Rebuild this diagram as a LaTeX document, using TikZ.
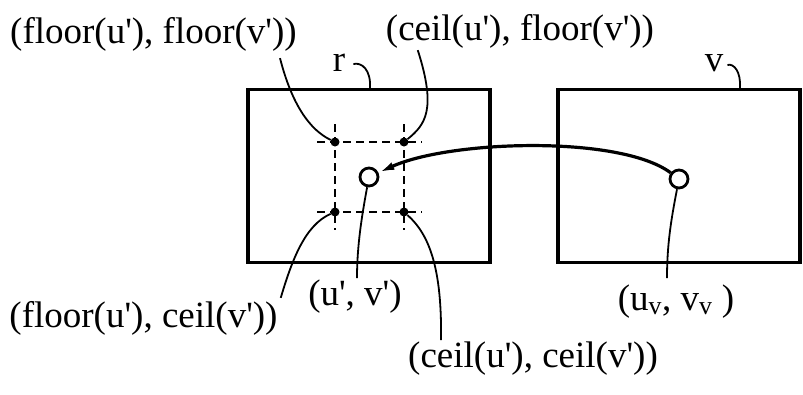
\documentclass[tikz,border=0pt]{standalone}
\usepackage{fontspec}
\setmainfont{Liberation Serif}
\usetikzlibrary{arrows.meta,calc}

\begin{document}
\begin{tikzpicture}[x=1pt, y=-1pt,
  frame/.style={draw, line width=3.2pt, minimum width=242pt, minimum height=173pt, inner sep=0pt},
  lbl/.style={inner sep=0pt, font=\fontsize{37}{40}\selectfont},
  dot/.style={circle, fill, inner sep=0pt, minimum size=9pt},
  ring/.style={circle, draw, line width=2.8pt, fill=white, inner sep=0pt, minimum size=18pt},
  gridline/.style={dash pattern=on 8pt off 5pt, line width=1.6pt},
  leader/.style={line width=1.8pt},
  link/.style={line width=3.2pt, -{Latex[length=16pt,width=8pt]}}]
  \useasboundingbox (0,0) rectangle (803,394);

  % the two frames
  \node[frame] (r) at (369,176) {};
  \node[frame] (v) at (679,176) {};

  % sample grid round (u', v')
  \node[dot] (ff) at (335,142) {};
  \node[dot] (cf) at (404,142) {};
  \node[dot] (fc) at (335,212) {};
  \node[dot] (cc) at (404,212) {};
  \draw[gridline] ($(ff)+(-18,0)$) -- ($(cf)+(18,0)$);
  \draw[gridline] ($(fc)+(-18,0)$) -- ($(cc)+(18,0)$);
  \draw[gridline] ($(ff)+(0,-18)$) -- ($(fc)+(0,18)$);
  \draw[gridline] ($(cf)+(0,-18)$) -- ($(cc)+(0,18)$);

  \node[ring] (p) at (369,177) {};
  \node[ring] (q) at (679,179) {};

  % labels
  \node[lbl] (lff) at (153.5,34) {(floor(u\textquotesingle), floor(v\textquotesingle))};
  \node[lbl] (lcf) at (520,31)   {(ceil(u\textquotesingle), floor(v\textquotesingle))};
  \node[lbl] (lfc) at (143.5,318) {(floor(u\textquotesingle), ceil(v\textquotesingle))};
  \node[lbl] (lcc) at (533,359)  {(ceil(u\textquotesingle), ceil(v\textquotesingle))};
  \node[lbl] (lp)  at (355,297)  {(u\textquotesingle, v\textquotesingle)};
  \node[lbl] (lq)  at (676,302)  {(u\textsubscript{v}, v\textsubscript{v} )};
  \node[lbl] (lr)  at (339,63)   {r};
  \node[lbl] (lv)  at (714,63)   {v};

  % leaders
  \draw[leader] ($(lff.south east)+(-17,7)$) .. controls (292,105) and (310,130) .. (ff);
  \draw[leader] ($(lcf.south west)+(32,2)$) .. controls (437,110) and (425,125) .. (cf);
  \draw[leader] (fc) .. controls (305,225) and (292,260) .. ($(lfc.north east)+(3,-3)$);
  \draw[leader] (cc) .. controls (430,235) and (442,270) .. ($(lcc.north west)+(33,-2)$);
  \draw[leader] (p) .. controls (362,215) and (357,245) .. ($(lp.north)+(2,-2)$);
  \draw[leader] (q) .. controls (671,220) and (667,245) .. ($(lq.north)+(-9,-7)$);
  \draw[leader] ($(lr.east)+(8,1)$) .. controls (362,62) and (371,70) .. ($(r.north)+(1,0)$);
  \draw[leader] ($(lv.east)+(4,2)$) .. controls (734,63) and (741,72) .. ($(v.north)+(61,0)$);

  % mapping arrow
  \draw[link] (q) .. controls (620,135) and (450,140) .. (p);
\end{tikzpicture}
\end{document}
